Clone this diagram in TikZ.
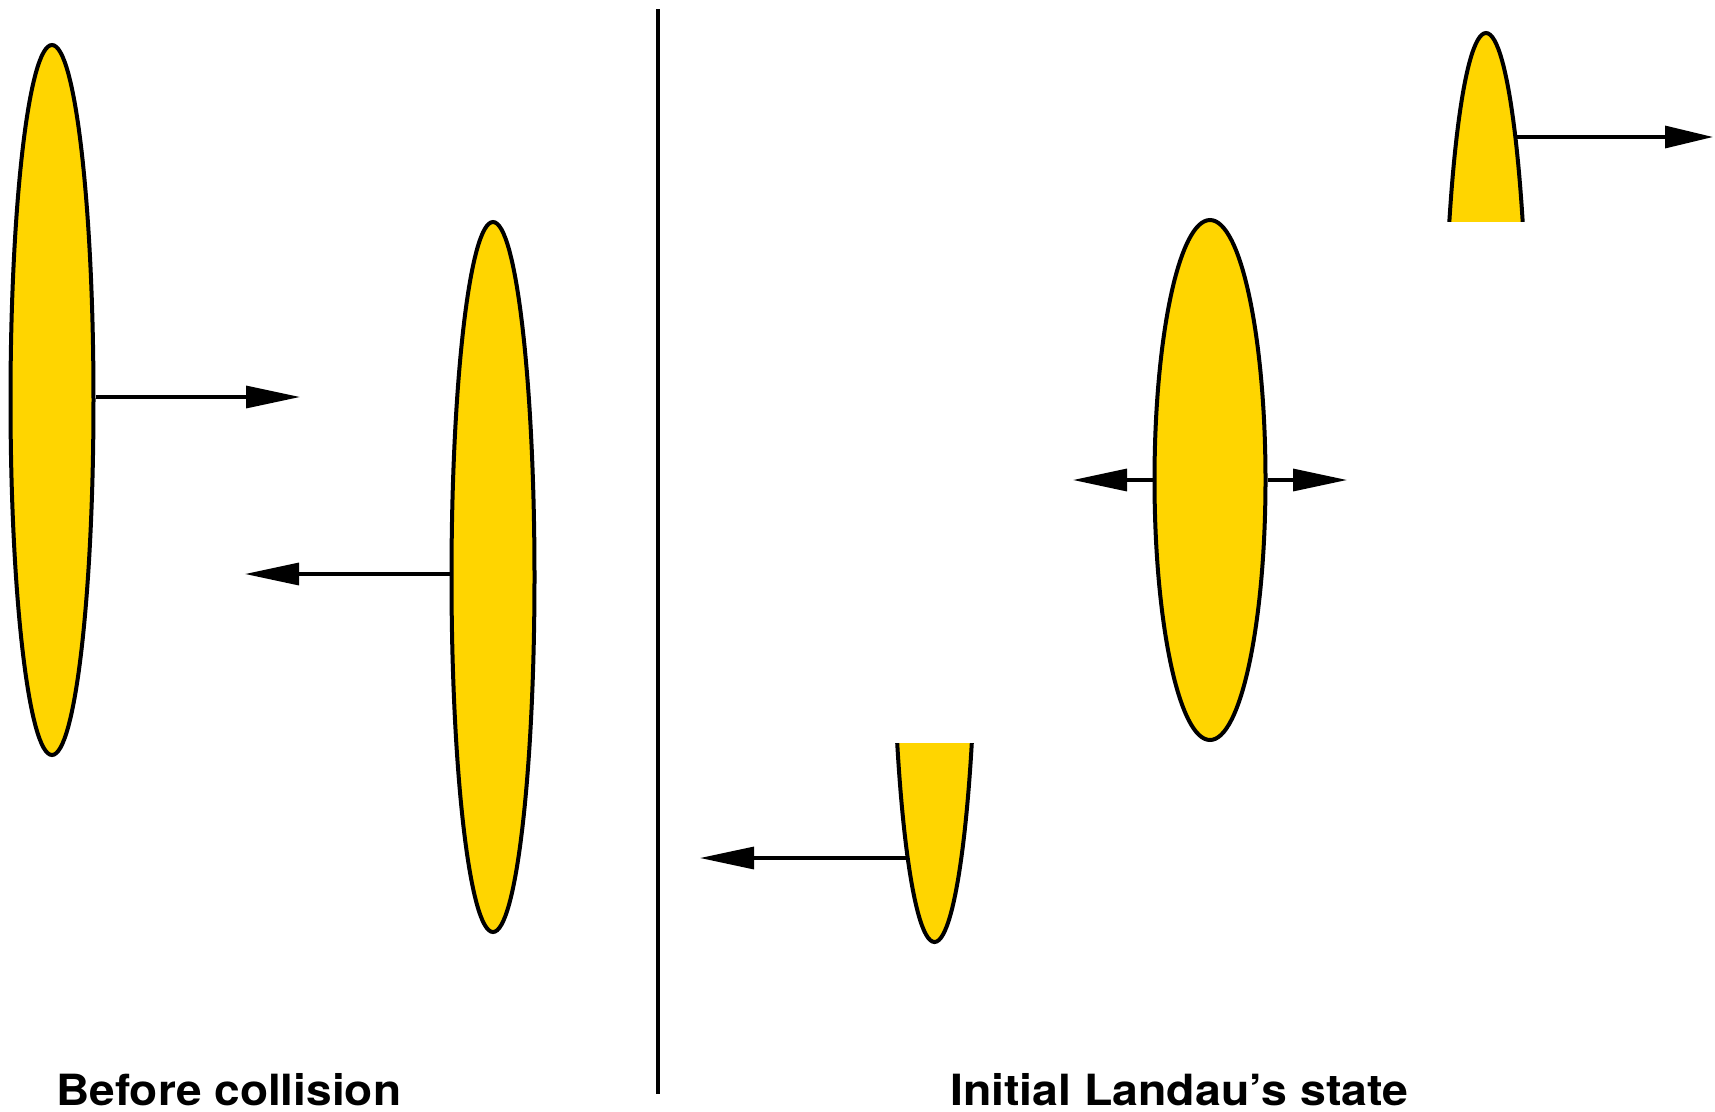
\documentclass[tikz,border=0pt]{standalone}
\usepackage{fontspec}
\setmainfont{TeX Gyre Heros}
\usetikzlibrary{shapes.geometric,arrows.meta}
\definecolor{blobyellow}{RGB}{255,213,0}
\tikzset{
  blob/.style={ellipse, draw=black, fill=blobyellow, line width=4pt, inner sep=0pt,
               minimum width=#1},
  blob/.default=83pt,
  movearrow/.style={line width=3.3pt, -{Triangle[length=54pt,width=22pt]}},
  caption/.style={anchor=base west, inner sep=0pt, font=\fontsize{43}{50}\selectfont\bfseries}
}
\begin{document}
\begin{tikzpicture}[x=1pt,y=-1pt]
\useasboundingbox (0,0) rectangle (1715,1111);
% left panel
\node[blob, minimum height=710pt] (e1) at (52,400) {};
\node[blob, minimum height=710pt] (e2) at (493,577) {};
\coordinate (t1) at (300,397);
\coordinate (t2) at (245,574);
\draw[movearrow] (e1.east |- t1) -- (t1);
\draw[movearrow] (e2.west |- t2) -- (t2);
% divider
\coordinate (d1) at (658,9);
\coordinate (d2) at (658,1094);
\draw[line width=3.2pt] (d1) -- (d2);
% right panel: central blob
\node[blob=111pt, minimum height=520pt] (e3) at (1210,480) {};
\coordinate (t3l) at (1073,480);
\coordinate (t3r) at (1347,480);
\draw[movearrow] (e3.west) -- (t3l);
\draw[movearrow] (e3.east) -- (t3r);
% top right partial blob
\begin{scope}
  \clip (1400,0) rectangle (1600,221);
  \node[blob, minimum height=710pt] (e4) at (1486,388) {};
\end{scope}
\coordinate (t4) at (1713,137);
\draw[line width=3.3pt, -{Triangle[length=48pt,width=22pt]}] (e4.83.3 |- t4) -- (t4);
% bottom partial blob
\begin{scope}
  \clip (850,743) rectangle (1020,1000);
  \node[blob, minimum height=710pt] (e5) at (934.5,587) {};
\end{scope}
\coordinate (t5) at (700,858);
\draw[movearrow] (e5.264.35 |- t5) -- (t5);
% captions
\node[caption] (c1) at (56,1105) {\scalebox{1.07}[1]{Before collision}};
\node[caption] (c2) at (950,1105) {\scalebox{1.08}[1]{Initial Landau’s state}};
\end{tikzpicture}
\end{document}
